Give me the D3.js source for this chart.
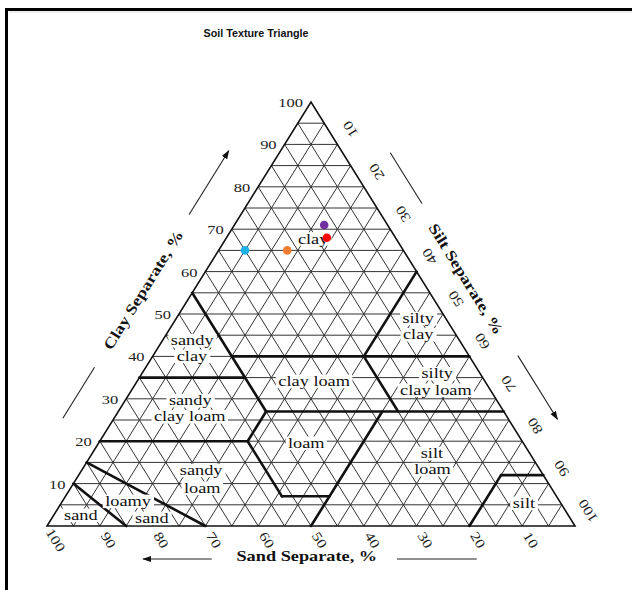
<!DOCTYPE html>
<html>
<head>
<meta charset="utf-8">
<script src="https://cdn.jsdelivr.net/npm/d3@7"></script>
<style>
  html, body { margin: 0; padding: 0; background: #fff; }
  svg { display: block; }
</style>
</head>
<body>
<svg id="chart" width="632" height="590"></svg>
<script>
// ---------- data ----------
const chartTitle = "Soil Texture Triangle";
const clayTicks = [10, 20, 30, 40, 50, 60, 70, 80, 90, 100];
const siltTicks = [10, 20, 30, 40, 50, 60, 70, 80, 90, 100];
const sandTicks = [100, 90, 80, 70, 60, 50, 40, 30, 20, 10];
const gridStep = 5;

const axisTitles = ["Clay Separate, %", "Silt Separate, %", "Sand Separate, %"];

// Sample compositions (percent sand / silt / clay) and marker colours
const sampleNames = ["A", "B", "C", "D"];
const sampleSand = [12, 13, 30, 22];
const sampleSilt = [17, 19, 5, 13];
const sampleClay = [71, 68, 65, 65];
const sampleColors = ["#7030a0", "#ff0000", "#1fb0e8", "#ed7d31"];

// USDA textural class boundaries, each a segment between two (sand, silt, clay) points
const boundaries = [
  [[45, 0, 55], [45, 28, 27]],
  [[45, 15, 40], [0, 60, 40]],
  [[0, 40, 60], [20, 40, 40]],
  [[20, 40, 40], [20, 53, 27]],
  [[65, 0, 35], [45, 20, 35]],
  [[45, 28, 27], [0, 73, 27]],
  [[45, 28, 27], [52, 28, 20]],
  [[80, 0, 20], [52, 28, 20]],
  [[52, 28, 20], [52, 41, 7]],
  [[52, 41, 7], [43, 50, 7]],
  [[50, 50, 0], [23, 50, 27]],
  [[20, 80, 0], [8, 80, 12]],
  [[8, 80, 12], [0, 88, 12]],
  [[70, 30, 0], [85, 0, 15]],
  [[85, 15, 0], [90, 0, 10]]
];

// Class names, one entry per text line, anchored at (silt, clay) within the triangle
const classLines = [
  { text: "clay",      silt: 17.1, clay: 66.6 },
  { text: "sandy",     silt: 6.2,  clay: 42.6 },
  { text: "clay",      silt: 8.0,  clay: 38.9 },
  { text: "sandy",     silt: 12.9, clay: 28.45 },
  { text: "clay loam", silt: 14.7, clay: 24.65 },
  { text: "clay loam", silt: 34.1, clay: 33.0 },
  { text: "silty",     silt: 46.4, clay: 47.8 },
  { text: "clay",      silt: 48.3, clay: 44.0 },
  { text: "silty",     silt: 56.5, clay: 34.8 },
  { text: "clay loam", silt: 58.2, clay: 30.9 },
  { text: "loam",      silt: 39.9, clay: 18.4 },
  { text: "silt",      silt: 64.9, clay: 16.0 },
  { text: "loam",      silt: 66.9, clay: 12.2 },
  { text: "sandy",     silt: 23.2, clay: 12.0 },
  { text: "loam",      silt: 25.5, clay: 7.8 },
  { text: "loamy",     silt: 13.0, clay: 4.7 },
  { text: "sand",      silt: 19.5, clay: 0.7 },
  { text: "sand",      silt: 5.7,  clay: 1.4 },
  { text: "silt",      silt: 88.2, clay: 4.25 }
];

// ---------- layout ----------
const svg = d3.select("#chart");
const W = 632, H = 590;
const SERIF = "'Liberation Serif', 'Times New Roman', serif";
const STRETCH = 1.22;

const xs = d3.scaleLinear().domain([0, 100]).range([47, 575]);   // position across the base
const ys = d3.scaleLinear().domain([0, 100]).range([526, 102]);  // clay percent

function pt(sand, silt, clay) { return [xs(silt + clay / 2), ys(clay)]; }

const corner = { sand: pt(100, 0, 0), silt: pt(0, 100, 0), clay: pt(0, 0, 100) };
function unit(a, b) { const dx = b[0] - a[0], dy = b[1] - a[1], l = Math.hypot(dx, dy); return [dx / l, dy / l]; }
const leftDir = unit(corner.sand, corner.clay);   // up the clay axis
const rightDir = unit(corner.clay, corner.silt);  // down the silt axis
const leftNormal = [leftDir[1], -leftDir[0]];     // outward from the left side
const rightNormal = [rightDir[1], -rightDir[0]];  // outward from the right side
const angLeft = Math.atan2(leftDir[1], leftDir[0]) * 180 / Math.PI;
const angRight = Math.atan2(rightDir[1], rightDir[0]) * 180 / Math.PI;

const line = d3.line();

// frame
svg.append("rect").attr("width", W).attr("height", H).attr("fill", "#fff");
svg.append("path").attr("d", "M6.5,590V9.5H632").attr("fill", "none")
  .attr("stroke", "#000").attr("stroke-width", 3);
svg.append("path").attr("d", "M9,12H632").attr("fill", "none")
  .attr("stroke", "#ddd").attr("stroke-width", 1);

// title
svg.append("text").attr("x", 256).attr("y", 37).attr("text-anchor", "middle")
  .attr("font-family", "'Liberation Sans', Arial, sans-serif").attr("font-weight", "bold")
  .attr("font-size", 11).attr("textLength", 105).attr("lengthAdjust", "spacingAndGlyphs")
  .attr("fill", "#111").text(chartTitle);

// ---------- grid ----------
const grid = svg.append("g").attr("stroke", "#333").attr("stroke-width", 1).attr("fill", "none");
const steps = d3.range(gridStep, 100, gridStep);
const gridSegs = [];
steps.forEach(k => {
  gridSegs.push([pt(100 - k, 0, k), pt(0, 100 - k, k)]);   // constant clay
  gridSegs.push([pt(100 - k, k, 0), pt(0, k, 100 - k)]);   // constant silt
  gridSegs.push([pt(k, 100 - k, 0), pt(k, 0, 100 - k)]);   // constant sand
});
grid.selectAll("path").data(gridSegs).join("path").attr("d", d => line(d));

// class boundaries
svg.append("g").attr("stroke", "#111").attr("stroke-width", 2.6).attr("fill", "none")
  .attr("stroke-linecap", "round")
  .selectAll("path").data(boundaries).join("path")
  .attr("d", d => line(d.map(p => pt(...p))));

// triangle outline
svg.append("path").attr("d", line([corner.sand, corner.silt, corner.clay]) + "Z")
  .attr("fill", "none").attr("stroke", "#111").attr("stroke-width", 1.6).attr("stroke-linejoin", "miter");

// ---------- class labels ----------
const lab = svg.append("g").selectAll("g").data(classLines).join("g")
  .attr("transform", d => { const p = pt(100 - d.silt - d.clay, d.silt, d.clay); return `translate(${p[0]},${p[1]}) scale(${STRETCH},1)`; });
lab.append("text").attr("text-anchor", "middle").attr("font-family", SERIF)
  .attr("font-size", 15).attr("fill", "#111").text(d => d.text);
lab.each(function () {
  const g = d3.select(this);
  const b = g.select("text").node().getBBox();
  g.insert("rect", "text").attr("x", b.x - 2).attr("y", b.y + 2).attr("width", b.width + 4)
    .attr("height", b.height - 3.5).attr("fill", "#fff");
});

// ---------- tick labels ----------
const ticks = svg.append("g").attr("font-family", SERIF).attr("font-size", 13.5).attr("fill", "#222");
// clay (left side)
ticks.selectAll("text.clay").data(clayTicks).join("text").attr("class", "clay")
  .attr("transform", d => { const p = pt(100 - d, 0, d); return `translate(${p[0] - 8},${p[1] + 5}) scale(${STRETCH},1)`; })
  .attr("text-anchor", "end").text(d => d);
// silt (right side), set out along each constant-silt line beyond the edge
ticks.selectAll("text.silt").data(siltTicks).join("text").attr("class", "silt")
  .attr("transform", d => {
    const p = pt(0, d, 100 - d);
    const cx = p[0] + 21 * leftDir[0] + 3.2 * rightDir[0];
    const cy = p[1] + 21 * leftDir[1] + 3.2 * rightDir[1];
    return `translate(${cx},${cy}) rotate(${angRight + 180}) scale(${STRETCH},1)`;
  })
  .attr("text-anchor", "middle").attr("dy", "0.35em").text(d => d);
// sand (base)
ticks.selectAll("text.sand").data(sandTicks).join("text").attr("class", "sand")
  .attr("transform", d => {
    const p = pt(d, 100 - d, 0);
    const cx = p[0] + 16.5 * rightDir[0], cy = p[1] + 16.5 * rightDir[1];
    return `translate(${cx},${cy}) rotate(${angRight}) scale(${STRETCH},1)`;
  })
  .attr("text-anchor", "middle").attr("dy", "0.35em").text(d => d);

// ---------- axis titles and arrows ----------
const titleFont = g => g.attr("font-family", SERIF).attr("font-weight", "bold").attr("font-size", 15).attr("fill", "#111");
function along(p0, dir, nrm, t, off) { return [p0[0] + dir[0] * t + nrm[0] * off, p0[1] + dir[1] * t + nrm[1] * off]; }
const leftLen = Math.hypot(corner.clay[0] - corner.sand[0], corner.clay[1] - corner.sand[1]);
const rightLen = Math.hypot(corner.silt[0] - corner.clay[0], corner.silt[1] - corner.clay[1]);

// clay title
{
  const c = along(corner.sand, leftDir, leftNormal, leftLen * 0.503, 38);
  svg.append("text").call(titleFont).attr("text-anchor", "middle")
    .attr("transform", `translate(${c[0]},${c[1]}) rotate(${angLeft}) scale(${STRETCH},1)`).text(axisTitles[0]);
}
// silt title
{
  const c = along(corner.clay, rightDir, rightNormal, rightLen * 0.465, 33);
  svg.append("text").call(titleFont).attr("text-anchor", "middle")
    .attr("transform", `translate(${c[0]},${c[1]}) rotate(${angRight}) scale(${STRETCH},1)`).text(axisTitles[1]);
}
// sand title
svg.append("text").call(titleFont).attr("text-anchor", "middle")
  .attr("transform", `translate(${xs(49.2)},561) scale(${STRETCH},1)`).text(axisTitles[2]);

// arrows and guide lines
const defs = svg.append("defs");
defs.append("marker").attr("id", "head").attr("viewBox", "0 0 10 10").attr("refX", 9).attr("refY", 5)
  .attr("markerWidth", 9).attr("markerHeight", 9).attr("markerUnits", "userSpaceOnUse").attr("orient", "auto")
  .append("path").attr("d", "M0,1.5L10,5L0,8.5Z").attr("fill", "#111");

const guides = [
  { a: along(corner.sand, leftDir, leftNormal, leftLen * 0.68, 44), b: along(corner.sand, leftDir, leftNormal, leftLen * 0.83, 44), arrow: true },
  { a: along(corner.sand, leftDir, leftNormal, leftLen * 0.20, 43.5), b: along(corner.sand, leftDir, leftNormal, leftLen * 0.32, 43.5), arrow: false },
  { a: along(corner.clay, rightDir, rightNormal, rightLen * 0.17, 40.5), b: along(corner.clay, rightDir, rightNormal, rightLen * 0.29, 40.5), arrow: false },
  { a: along(corner.clay, rightDir, rightNormal, rightLen * 0.65, 41.5), b: along(corner.clay, rightDir, rightNormal, rightLen * 0.80, 41.5), arrow: true },
  { a: [xs(100 - 68.8), 559], b: [xs(100 - 81.8), 559], arrow: true },
  { a: [xs(100 - 33.7), 559], b: [xs(100 - 18.6), 559], arrow: false }
];
svg.append("g").selectAll("path").data(guides).join("path")
  .attr("d", d => line([d.a, d.b])).attr("stroke", "#222").attr("stroke-width", 1.1).attr("fill", "none")
  .attr("marker-end", d => d.arrow ? "url(#head)" : null);

// ---------- samples ----------
svg.append("g").selectAll("circle").data(sampleNames).join("circle")
  .attr("cx", (d, i) => pt(sampleSand[i], sampleSilt[i], sampleClay[i])[0])
  .attr("cy", (d, i) => pt(sampleSand[i], sampleSilt[i], sampleClay[i])[1])
  .attr("r", 4.3).attr("fill", (d, i) => sampleColors[i]);
</script>
</body>
</html>
